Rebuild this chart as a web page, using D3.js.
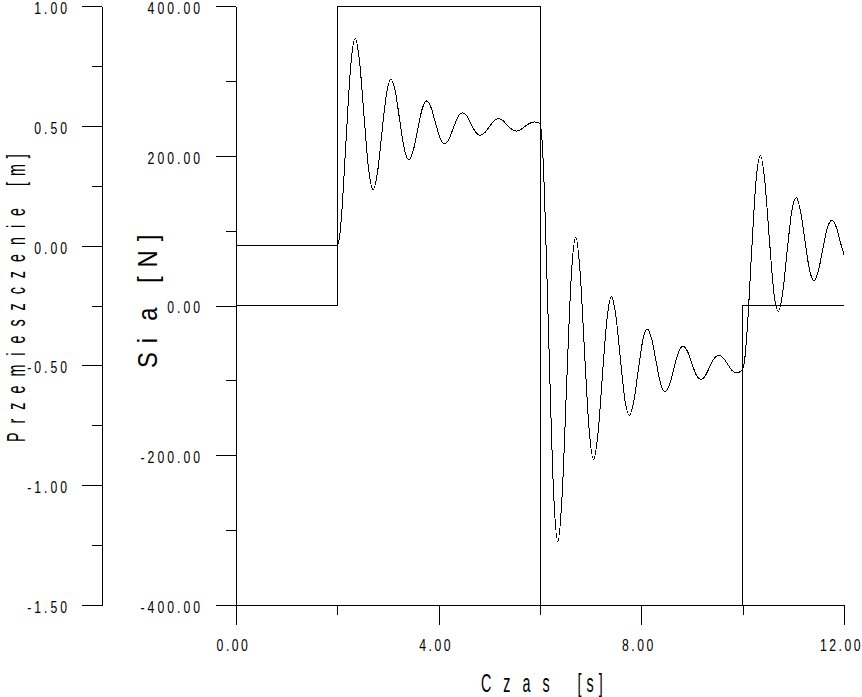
<!DOCTYPE html>
<html>
<head>
<meta charset="utf-8">
<script src="https://cdn.jsdelivr.net/npm/d3@7"></script>
<style>
  html, body { margin: 0; padding: 0; background: #fff; }
  svg { display: block; }
  text { white-space: pre; }
</style>
</head>
<body>
<div id="chart"></div>
<script>
// axis ticks
var timeTicks = [0, 4, 8, 12];
var timeMinorTicks = [2, 6, 10];
var dispTicks = [-1.5, -1.0, -0.5, 0, 0.5, 1.0];
var dispMinorTicks = [-1.25, -0.75, -0.25, 0.25, 0.75];
var forceTicks = [-400, -200, 0, 200, 400];
var forceMinorTicks = [-300, -100, 100, 300];

// force steps [N]
var forceTime = [0, 2, 6, 10, 12];
var forceValue = [0, 400, -400, 0, 0];

// displacement [m]
var dispTime = [0, 2.000, 2.044, 2.088, 2.177, 2.265, 2.353, 2.441, 2.530, 2.618, 2.706, 2.794, 2.883, 2.971,
  3.059, 3.147, 3.236, 3.324, 3.412, 3.500, 3.589, 3.677, 3.765, 3.853, 3.942, 4.030, 4.118, 4.207,
  4.295, 4.383, 4.471, 4.560, 4.648, 4.736, 4.824, 4.913, 5.001, 5.089, 5.177, 5.266, 5.354, 5.442,
  5.530, 5.619, 5.707, 5.795, 5.883, 5.972,
  6.000, 6.044, 6.088, 6.177, 6.265, 6.353, 6.441, 6.530, 6.618, 6.706, 6.794, 6.883, 6.971, 7.059,
  7.147, 7.236, 7.324, 7.412, 7.500, 7.589, 7.677, 7.765, 7.853, 7.942, 8.030, 8.118, 8.207, 8.295,
  8.383, 8.471, 8.560, 8.648, 8.736, 8.824, 8.913, 9.001, 9.089, 9.177, 9.266, 9.354, 9.442, 9.530,
  9.619, 9.707, 9.795, 9.883, 9.972,
  10.000, 10.044, 10.088, 10.177, 10.265, 10.353, 10.441, 10.530, 10.618, 10.706, 10.794, 10.883,
  10.971, 11.059, 11.147, 11.236, 11.324, 11.412, 11.500, 11.589, 11.677, 11.765, 11.853, 11.942, 12.000];
var dispValue = [0, 0, 0.038, 0.140, 0.458, 0.752, 0.864, 0.762, 0.532, 0.318, 0.234, 0.308, 0.478, 0.634,
  0.694, 0.640, 0.516, 0.402, 0.358, 0.398, 0.488, 0.572, 0.604, 0.574, 0.508, 0.448, 0.424, 0.446,
  0.494, 0.538, 0.554, 0.540, 0.504, 0.472, 0.460, 0.472, 0.496, 0.520, 0.530, 0.522, 0.502, 0.486,
  0.478, 0.484, 0.498, 0.510, 0.516, 0.512,
  0.508, 0.428, 0.218, -0.424, -1.014, -1.236, -1.024, -0.556, -0.126, 0.036, -0.118, -0.460, -0.772, -0.892,
  -0.778, -0.530, -0.302, -0.214, -0.298, -0.478, -0.646, -0.708, -0.648, -0.516, -0.394, -0.348, -0.392, -0.488,
  -0.578, -0.610, -0.578, -0.508, -0.444, -0.420, -0.442, -0.494, -0.542, -0.558, -0.542, -0.504, -0.470, -0.458,
  -0.470, -0.496, -0.522, -0.532, -0.522,
  -0.516, -0.468, -0.356, -0.024, 0.274, 0.376, 0.260, 0.018, -0.200, -0.274, -0.190, -0.012,
  0.146, 0.200, 0.138, 0.010, -0.106, -0.146, -0.100, -0.006, 0.078, 0.106, 0.074, 0.004, -0.038];

var width = 862;
var height = 697;
var labelFont = "'Liberation Sans', Arial, sans-serif";
var sx = 0.72;      // tick labels are drawn narrow

var svg = d3.select("#chart").append("svg")
  .attr("width", width)
  .attr("height", height)
  .attr("shape-rendering", "crispEdges");

var x_axis = d3.scaleLinear().domain([0, 12]).range([236, 844]);
var y_disp = d3.scaleLinear().domain([-1.5, 1.0]).range([605, 6]);
var y_force = d3.scaleLinear().domain([-400, 400]).range([605, 6]);

function fmt(d) { return d.toFixed(2); }

function narrow(g, spacing, dy, shift) {
  g.attr("font-family", labelFont).attr("font-size", 17);
  g.selectAll(".tick text").each(function() {
    var t = d3.select(this);
    var x = (+t.attr("x") || 0) + shift;
    t.attr("x", x / sx)
      .attr("transform", "scale(" + sx + ",1)")
      .style("letter-spacing", (spacing / sx) + "px");
    if (dy) t.attr("dy", dy);
  });
}

function drawAxis(axisFn, scale, major, minor, pos, pad, dy, shift, spacing) {
  var g = svg.append("g").attr("transform", pos);
  g.append("g").call(axisFn(scale).tickValues(minor).tickSize(10).tickSizeOuter(0).tickFormat(""));
  var gm = g.append("g").call(axisFn(scale).tickValues(major).tickSize(20).tickSizeOuter(0)
    .tickFormat(fmt).tickPadding(pad));
  narrow(gm, spacing, dy, shift);
}

drawAxis(d3.axisLeft, y_disp, dispTicks, dispMinorTicks, "translate(102,0)", 12, "0.44em", 0, 3);
drawAxis(d3.axisLeft, y_force, forceTicks, forceMinorTicks, "translate(236,0)", 13, "0.44em", 0, 3);
drawAxis(d3.axisBottom, x_axis, timeTicks, timeMinorTicks, "translate(0,605)", 14, null, -3, 2.5);

// force step line
var forceData = forceTime.map(function(t, i) { return {t: t, v: forceValue[i]}; });
var forceLine = d3.line()
  .x(function(d) { return x_axis(d.t); })
  .y(function(d) { return y_force(d.v); })
  .curve(d3.curveStepAfter);

svg.append("path")
  .datum(forceData)
  .attr("fill", "none")
  .attr("stroke", "#000")
  .attr("stroke-width", 1)
  .attr("d", forceLine);

// displacement curve
var dispData = dispTime.map(function(t, i) { return {t: t, v: dispValue[i]}; });
var dispLine = d3.line()
  .x(function(d) { return x_axis(d.t); })
  .y(function(d) { return y_disp(d.v); })
  .curve(d3.curveMonotoneX);

svg.append("path")
  .datum(dispData)
  .attr("fill", "none")
  .attr("stroke", "#000")
  .attr("stroke-width", 1)
  .attr("d", dispLine);

// axis titles
function title(pos, size, tsx, parts) {
  var g = svg.append("g").attr("transform", pos);
  var t = g.append("text")
    .attr("transform", "scale(" + tsx + ",1)")
    .attr("font-family", labelFont)
    .attr("font-size", size)
    .attr("fill", "#000");
  parts.forEach(function(p) {
    var s = t.append("tspan").text(p.text).style("letter-spacing", (p.ls / tsx) + "px");
    if (p.dx) s.attr("dx", p.dx / tsx);
  });
}

title("translate(25,442) rotate(-90)", 26, 0.55, [{text: "Przemieszczenie ", ls: 9}, {text: "[m]", ls: 6}]);
title("translate(157,368) rotate(-90)", 28, 0.85, [{text: "Si", ls: 9}, {text: "a [N]", ls: 9, dx: 8}]);
title("translate(481,692)", 26, 0.55, [{text: "Czas ", ls: 12}, {text: "[s]", ls: 5}]);
</script>
</body>
</html>
